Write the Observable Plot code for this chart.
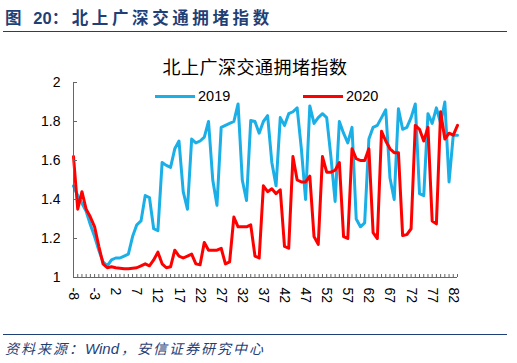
<!DOCTYPE html>
<html>
<head>
<meta charset="utf-8">
<script src="https://cdn.jsdelivr.net/npm/d3@7"></script>
<script src="https://cdn.jsdelivr.net/npm/@observablehq/plot@0.6"></script>
<style>
  html, body { margin: 0; padding: 0; background: #fff; }
  #wrap { position: relative; width: 517px; height: 363px; overflow: hidden; background: #fff; }
  .hdr { position: absolute; left: 5px; top: 9px; font: bold 16.5px "Liberation Sans", "Noto Sans CJK SC", sans-serif; color: #1F3F77; letter-spacing: 3.6px; line-height: 18px; white-space: nowrap; }
  .rule { position: absolute; left: 3px; width: 504px; height: 0; border-top: 1.5px solid #1F3F77; }
  .ctitle { position: absolute; left: 0; width: 510px; top: 56px; text-align: center; font: 18px "Noto Sans CJK SC", sans-serif; color: #000; line-height: 20px; letter-spacing: 0.5px; }
  .leg { position: absolute; top: 88px; font: 14.5px "Liberation Sans", Arial, sans-serif; color: #000; line-height: 16px; white-space: nowrap; }
  .leg i { display: inline-block; width: 40px; height: 3px; vertical-align: middle; margin-right: 3px; position: relative; top: -1px; }
  .src { position: absolute; left: 5px; top: 340px; font: italic 14px "Noto Sans CJK SC", "Liberation Sans", sans-serif; color: #1F3F77; letter-spacing: 2px; line-height: 16px; white-space: nowrap; }
  .src span { font-family: "Liberation Sans", sans-serif; font-size: 15px; letter-spacing: 0; margin-right: 2px; }
  #chart { position: absolute; left: 0; top: 0; }
</style>
</head>
<body>
<div id="wrap">
  <div class="hdr">图 <span style="font-family:'Liberation Sans';letter-spacing:0">20</span>：北上广深交通拥堵指数</div>
  <div class="rule" style="top:31px"></div>
  <div id="chart"></div>
  <div class="ctitle">北上广深交通拥堵指数</div>
  <div class="leg" style="left:155px"><i style="background:#1AAFE6"></i>2019</div>
  <div class="leg" style="left:303px"><i style="background:#FF0000"></i>2020</div>
  <div class="rule" style="top:334px"></div>
  <div class="src">资料来源：<span>Wind</span>，安信证券研究中心</div>
</div>
<script>
const startDay = -8;
const endDay = 83;
const days = d3.range(startDay, endDay + 1);

const series2019 = [
  1.47, 1.42, 1.38, 1.34, 1.27, 1.21, 1.14, 1.08,
  1.06, 1.09, 1.10, 1.10, 1.11, 1.12, 1.21, 1.27, 1.29, 1.42, 1.41, 1.25, 1.24,
  1.59, 1.575, 1.565, 1.66, 1.70, 1.44, 1.35,
  1.71, 1.69, 1.70, 1.72, 1.80, 1.50, 1.37,
  1.77, 1.78, 1.79, 1.80, 1.89, 1.50, 1.395,
  1.805, 1.80, 1.74, 1.80, 1.83, 1.59, 1.47,
  1.82, 1.78, 1.84, 1.85, 1.87, 1.66, 1.40,
  1.88, 1.79, 1.82, 1.84, 1.82, 1.62, 1.39,
  1.80, 1.74, 1.69, 1.77, 1.30, 1.26, 1.28,
  1.71, 1.77, 1.78, 1.82, 1.86, 1.51, 1.40,
  1.865, 1.76, 1.77, 1.82, 1.89, 1.43, 1.42,
  1.84, 1.79, 1.87, 1.79, 1.90, 1.49, 1.73,
  1.73
];

const series2020 = [
  1.62, 1.35, 1.44, 1.35, 1.31, 1.26, 1.16, 1.07,
  1.05, 1.055, 1.05, 1.048, 1.045, 1.045, 1.048, 1.05, 1.06,
  1.07, 1.06, 1.09, 1.13, 1.07, 1.05, 1.055,
  1.14, 1.11, 1.10, 1.11, 1.12, 1.07, 1.065,
  1.18, 1.14, 1.14, 1.14, 1.15, 1.07, 1.08,
  1.31, 1.26, 1.26, 1.26, 1.27, 1.11, 1.10,
  1.47, 1.44, 1.455, 1.43, 1.45, 1.16, 1.15,
  1.62, 1.50, 1.49, 1.49, 1.52, 1.21, 1.17,
  1.62, 1.54, 1.54, 1.55, 1.59, 1.21, 1.20,
  1.66, 1.61, 1.60, 1.60, 1.66, 1.23, 1.20,
  1.75, 1.70, 1.66, 1.64, 1.64, 1.215, 1.22, 1.25,
  1.78, 1.76, 1.70, 1.77, 1.29, 1.275,
  1.85, 1.71, 1.74, 1.73, 1.78
];

const yTicks = [1, 1.2, 1.4, 1.6, 1.8, 2];
const xLabels = [-8, -3, 2, 7, 12, 17, 22, 27, 32, 37, 42, 47, 52, 57, 62, 67, 72, 77, 82];

const seriesNames = ["2019", "2020"];
const seriesColors = ["#1AAFE6", "#FF0000"];

const d2019 = days.map((d, i) => ({day: d, value: series2019[i]}));
const d2020 = days.map((d, i) => ({day: d, value: series2020[i]}));

const chart = Plot.plot({
  width: 517,
  height: 363,
  marginLeft: 73,
  marginRight: 60,
  marginTop: 82,
  marginBottom: 86,
  style: {fontFamily: "'Liberation Sans', Arial, sans-serif", fontSize: "14px", color: "#000", background: "transparent"},
  x: {domain: [startDay, endDay]},
  y: {domain: [1, 2]},
  marks: [
    Plot.line(d2019, {x: "day", y: "value", stroke: seriesColors[0], strokeWidth: 3, strokeLinejoin: "round"}),
    Plot.line(d2020, {x: "day", y: "value", stroke: seriesColors[1], strokeWidth: 3, strokeLinejoin: "round"}),
    Plot.axisY({ticks: yTicks, tickSize: -4, tickPadding: 17, tickFormat: d => String(+d.toFixed(1)), label: null, stroke: "#666", fill: "#000"}),
    Plot.axisX({ticks: days, tickSize: -3, text: null, label: null, stroke: "#666"}),
    Plot.axisX({ticks: xLabels, tickSize: 0, tickPadding: 10, tickRotate: 90, tickFormat: d => String(d), label: null, fill: "#000"}),
    Plot.ruleX([startDay], {stroke: "#666", strokeWidth: 1}),
    Plot.ruleY([1], {stroke: "#666", strokeWidth: 1})
  ]
});
document.getElementById("chart").appendChild(chart);
</script>
</body>
</html>
